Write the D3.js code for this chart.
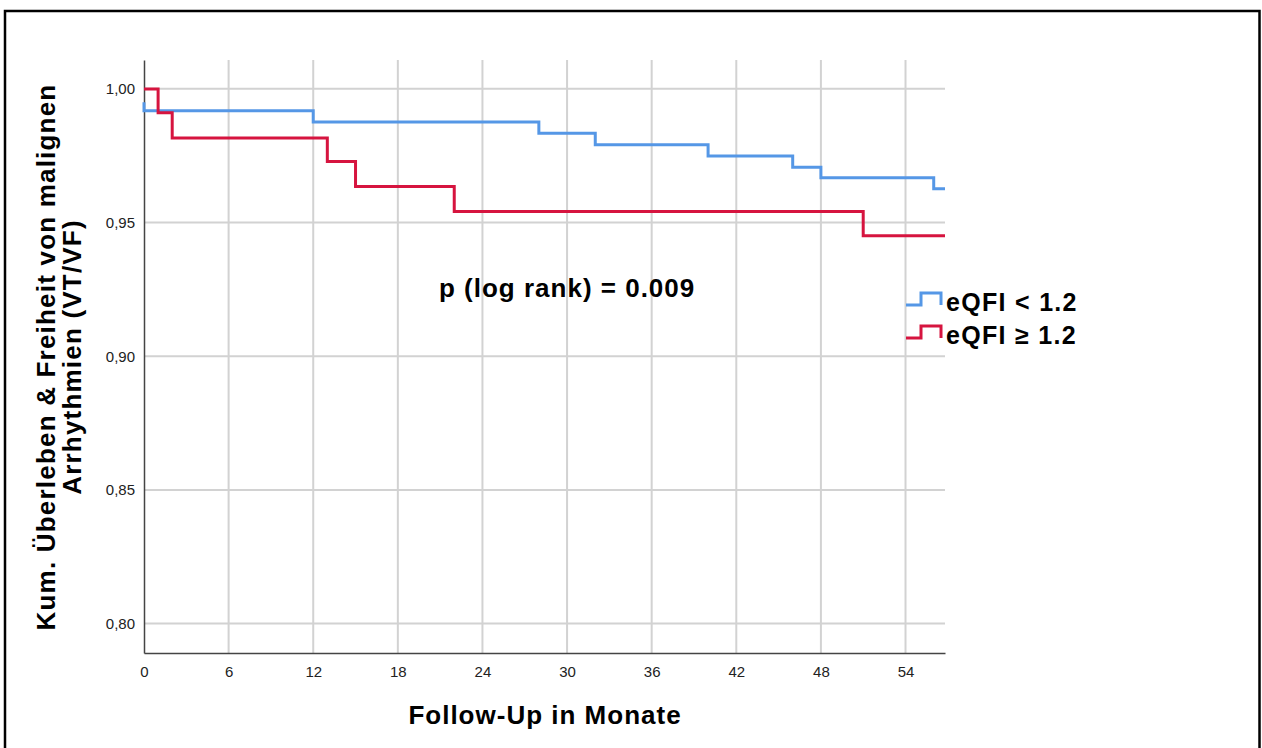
<!DOCTYPE html>
<html>
<head>
<meta charset="utf-8">
<script src="https://cdn.jsdelivr.net/npm/d3@7"></script>
<style>
  body { margin: 0; background: #fff; }
  svg text { font-family: "Liberation Sans", Arial, sans-serif; }
</style>
</head>
<body>
<div id="chart"></div>
<script>
// follow-up months where the curve steps, and survival after the step
var blueTimes = [0, 0, 12, 28, 32, 40, 46, 48, 56, 56.8];
var blueSurv = [0.995, 0.9918, 0.9876, 0.9834, 0.9791, 0.9749, 0.9707, 0.9668, 0.9626, 0.9626];
var redTimes = [0, 1, 2, 13, 15, 22, 51, 56.8];
var redSurv = [1.0, 0.9911, 0.9816, 0.9728, 0.9635, 0.9541, 0.9451, 0.9451];

var xTicks = [0, 6, 12, 18, 24, 30, 36, 42, 48, 54];
var yTicks = [0.80, 0.85, 0.90, 0.95, 1.00];
var groupNames = ["eQFI < 1.2", "eQFI \u2265 1.2"];
var groupColors = ["#5597e6", "#d6143f"];

var width = 1262, height = 748;
var svg = d3.select("#chart").append("svg")
  .attr("width", width)
  .attr("height", height);

// outer frame
svg.append("rect")
  .attr("x", 5).attr("y", 11)
  .attr("width", 1254.5).attr("height", 800)
  .attr("fill", "none")
  .attr("stroke", "#000")
  .attr("stroke-width", 2.5);

var x = d3.scaleLinear().domain([0, 56.8]).range([144, 945]);
var y = d3.scaleLinear().domain([0.789, 1.0108]).range([653, 60]);

// grid
svg.append("g").selectAll("line").data(xTicks.slice(1)).enter().append("line")
  .attr("x1", function(d){ return x(d); })
  .attr("x2", function(d){ return x(d); })
  .attr("y1", y(1.0108)).attr("y2", y(0.789))
  .attr("stroke", "#d2d2d2").attr("stroke-width", 2);

svg.append("g").selectAll("line").data(yTicks).enter().append("line")
  .attr("x1", x(0)).attr("x2", x(56.8))
  .attr("y1", function(d){ return y(d); })
  .attr("y2", function(d){ return y(d); })
  .attr("stroke", "#d2d2d2").attr("stroke-width", 2);

// axes
var xAxis = d3.axisBottom(x).tickValues(xTicks).tickSize(0).tickPadding(13);
var yAxis = d3.axisLeft(y).tickValues(yTicks).tickSize(0).tickPadding(9)
  .tickFormat(function(d){ return d3.format(".2f")(d).replace(".", ","); });

var gx = svg.append("g").attr("transform", "translate(0," + y(0.789) + ")").call(xAxis);
var gy = svg.append("g").attr("transform", "translate(" + x(0) + ",0)").call(yAxis);

[gx, gy].forEach(function(g){
  g.select(".domain").attr("stroke", "#444").attr("stroke-width", 1.5);
  g.selectAll("text")
    .style("font-size", "15px")
    .attr("fill", "#222");
});

// survival curves
var line = d3.line()
  .x(function(d){ return x(d[0]); })
  .y(function(d){ return y(d[1]); })
  .curve(d3.curveStepAfter);

var series = [
  d3.zip(blueTimes, blueSurv),
  d3.zip(redTimes, redSurv)
];

series.forEach(function(pts, i){
  svg.append("path")
    .attr("d", line(pts))
    .attr("fill", "none")
    .attr("stroke", groupColors[i])
    .attr("stroke-width", 3);
});

// annotation
svg.append("text")
  .attr("x", 439).attr("y", 297)
  .style("font-size", "26px")
  .style("font-weight", "bold")
  .style("letter-spacing", "1px")
  .text("p (log rank) = 0.009");

// legend
var legend = svg.append("g").selectAll("g").data(groupNames).enter().append("g")
  .attr("transform", function(d, i){ return "translate(906," + (305 + i * 33) + ")"; });

legend.append("path")
  .attr("d", "M0,0 H15 V-12 H35 V0")
  .attr("fill", "none")
  .attr("stroke", function(d, i){ return groupColors[i]; })
  .attr("stroke-width", 3);

legend.append("text")
  .attr("x", 40).attr("y", 6)
  .style("font-size", "25px")
  .style("font-weight", "bold")
  .style("letter-spacing", "1.3px")
  .text(function(d){ return d; });

// axis titles
svg.append("text")
  .attr("x", 545).attr("y", 724)
  .attr("text-anchor", "middle")
  .style("font-size", "26px")
  .style("font-weight", "bold")
  .style("letter-spacing", "1px")
  .text("Follow-Up in Monate");

var yTitle = svg.append("text")
  .attr("transform", "translate(55,357) rotate(-90)")
  .attr("text-anchor", "middle")
  .style("font-size", "26px")
  .style("font-weight", "bold")
  .style("letter-spacing", "1.2px");
yTitle.append("tspan").attr("x", 0).attr("y", 0).text("Kum. \u00dcberleben & Freiheit von malignen");
yTitle.append("tspan").attr("x", 0).attr("y", 26).text("Arrhythmien (VT/VF)");
</script>
</body>
</html>
